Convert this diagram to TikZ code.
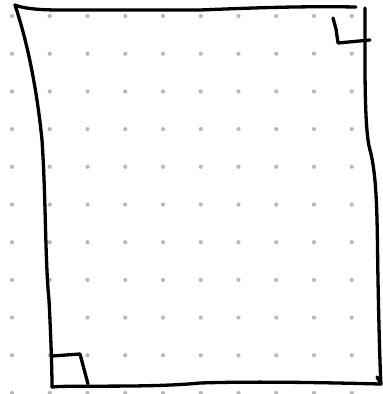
\documentclass[tikz,border=0pt]{standalone}
\begin{document}
\begin{tikzpicture}[x=1pt,y=-1pt,
  ink/.style={line width=3.3pt,line cap=round,line join=round,black},
  griddot/.style={fill=black!28,draw=none}]
\useasboundingbox (0,0) rectangle (383,394);
\foreach \i in {0,...,9}{
  \foreach \j in {0,...,10}{
    \fill[griddot] ({12+37.75*\i},{16+37.7*\j}) circle (2.1);
  }
}
% outline
\coordinate (tl) at (15,5);
\coordinate (tr) at (356,7);
\coordinate (rt) at (365,8);
\coordinate (br) at (381,384);
\coordinate (bl) at (52,387);
\draw[ink] (tl) .. controls (20,7) and (30,10) .. (60,10)
  -- (200,10) .. controls (250,8) and (300,6) .. (tr);
\draw[ink] (tl) .. controls (30,50) and (38,100) .. (42,140)
  .. controls (46,200) and (45,260) .. (49,300)
  .. controls (51,340) and (52,370) .. (bl);
\draw[ink] (bl) .. controls (70,385) and (150,388) .. (200,383)
  .. controls (260,381) and (340,383) .. (br);
\draw[ink] (rt) .. controls (365,60) and (364,130) .. (370,150)
  .. controls (378,180) and (377,230) .. (378,280)
  .. controls (379,330) and (380,370) .. (br) -- (377,377);
% right-angle marks
\draw[ink] (333,18) -- (336,29) -- (338,43) -- (370,40);
\draw[ink] (52,356) -- (80,354) -- (88,384);
\end{tikzpicture}
\end{document}
